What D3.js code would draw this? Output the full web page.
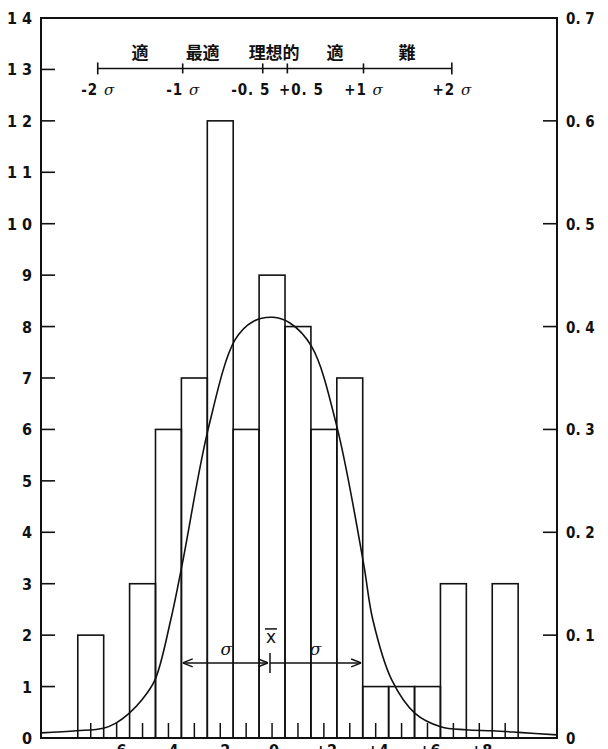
<!DOCTYPE html>
<html>
<head>
<meta charset="utf-8">
<script src="https://cdn.jsdelivr.net/npm/d3@7"></script>
<style>
  html, body { margin: 0; padding: 0; background: #fff; }
  svg { display: block; }
  .num { font-family: "DejaVu Sans Condensed", "Liberation Sans Narrow", sans-serif; font-weight: bold; fill: #111; }
  .cjk { font-family: "Noto Sans CJK JP", sans-serif; font-weight: bold; fill: #111; }
</style>
</head>
<body>
<div id="chart"></div>
<script>
// histogram bins (bin centre, in class units) and counts
const binCenters = [-7, -6, -5, -4, -3, -2, -1, 0, 1, 2, 3, 4, 5, 6, 7, 8, 9];
const counts     = [ 2,  0,  3,  6,  7, 12,  6, 9, 8, 6, 7, 1, 1, 1, 3, 0, 3];

// fitted curve, points (x in class units, y in counts)
const curveX = [-8.92, -7.54, -6.51, -6.03, -5.52, -5.03, -4.52, -3.91, -3.46, -2.46, -1.43, -0.73, 0.03, 0.69, 1.53, 2.5, 3.53, 3.89, 4.62, 5.52, 6.51, 7.48, 8.51, 9.51, 11.0];
const curveY = [ 0.10,  0.14,  0.19,  0.29,  0.48,  0.74,  1.13,  2.3,   3.4,   6.02,  7.74,  8.1,  8.18, 8.07, 7.61, 6.06, 3.4, 2.3, 1.13, 0.48, 0.22, 0.16, 0.14, 0.11, 0.06];

// axis ticks
const leftTicks  = [1, 2, 3, 4, 5, 6, 7, 8, 9, 10, 11, 12, 13];
const leftLabels = ['0', '1', '2', '3', '4', '5', '6', '7', '8', '9', '1 0', '1 1', '1 2', '1 3', '1 4'];
const rightTicks = [0.1, 0.2, 0.3, 0.4, 0.5, 0.6];
const rightLabels = ['0', '0. 1', '0. 2', '0. 3', '0. 4', '0. 5', '0. 6', '0. 7'];
const bottomLabelPos = [-6, -4, -2, 0, 2, 4, 6, 8];
const bottomLabels   = ['-6', '-4', '-2', '0', '+2', '+4', '+6', '+8'];

// sigma scale at the top
const sigmaPos    = [-6.73, -3.45, -0.36, 0.59, 3.53, 6.94];
const sigmaLabels = ['-2 ', '-1 ', '-0. 5', '+0. 5', '+1 ', '+2 '];
const sigmaHasSym = [true, true, false, false, true, true];
const zonePos     = [-5.10, -2.68, 0.08, 2.43, 5.21];
const zoneLabels  = ['適', '最適', '理想的', '適', '難'];

// mean / sigma marker
const markerPos = [-3.45, -0.08, 3.44];

const W = 608, H = 749;
const margin = { top: 18, right: 51, bottom: 11, left: 41 };

const svg = d3.select('#chart').append('svg')
  .attr('width', W)
  .attr('height', H);

const x = d3.scaleLinear().domain([-8.92, 11.0]).range([margin.left, W - margin.right]);
const y = d3.scaleLinear().domain([0, 14]).range([H - margin.bottom, margin.top]);
const y2 = d3.scaleLinear().domain([0, 0.7]).range([H - margin.bottom, margin.top]);

const ink = '#111';

// bars
svg.append('g')
  .selectAll('rect')
  .data(binCenters.map((c, i) => ({ c, v: counts[i] })).filter(d => d.v > 0))
  .join('rect')
  .attr('x', d => x(d.c - 0.5))
  .attr('width', d => x(d.c + 0.5) - x(d.c - 0.5))
  .attr('y', d => y(d.v))
  .attr('height', d => y(0) - y(d.v))
  .attr('fill', 'none')
  .attr('stroke', ink)
  .attr('stroke-width', 1.6);

// small ticks at bin centres
svg.append('g')
  .selectAll('line')
  .data(binCenters)
  .join('line')
  .attr('x1', d => x(d)).attr('x2', d => x(d))
  .attr('y1', y(0)).attr('y2', y(0) - 15)
  .attr('stroke', ink)
  .attr('stroke-width', 1.5);

// curve
const line = d3.line()
  .x((d, i) => x(curveX[i]))
  .y(d => y(d))
  .curve(d3.curveCatmullRom.alpha(0.5));

svg.append('path')
  .attr('d', line(curveY))
  .attr('fill', 'none')
  .attr('stroke', ink)
  .attr('stroke-width', 1.6);

// frame
svg.append('rect')
  .attr('x', x.range()[0])
  .attr('y', y(14))
  .attr('width', x.range()[1] - x.range()[0])
  .attr('height', y(0) - y(14))
  .attr('fill', 'none')
  .attr('stroke', ink)
  .attr('stroke-width', 2);

// left axis ticks + labels
svg.append('g')
  .selectAll('line')
  .data(leftTicks)
  .join('line')
  .attr('x1', x.range()[0]).attr('x2', x.range()[0] + 14)
  .attr('y1', d => y(d)).attr('y2', d => y(d))
  .attr('stroke', ink).attr('stroke-width', 1.6);

svg.append('g')
  .selectAll('text')
  .data(d3.range(0, 15))
  .join('text')
  .attr('class', 'num')
  .attr('x', 32)
  .attr('y', d => y(d) + 6)
  .attr('text-anchor', 'end')
  .attr('font-size', 16)
  .text(d => leftLabels[d]);

// right axis ticks + labels
svg.append('g')
  .selectAll('line')
  .data(rightTicks)
  .join('line')
  .attr('x1', x.range()[1] - 14).attr('x2', x.range()[1])
  .attr('y1', d => y2(d)).attr('y2', d => y2(d))
  .attr('stroke', ink).attr('stroke-width', 1.6);

svg.append('g')
  .selectAll('text')
  .data(d3.range(0, 8))
  .join('text')
  .attr('class', 'num')
  .attr('x', 566)
  .attr('y', d => y2(d / 10) + 6)
  .attr('font-size', 15)
  .text(d => rightLabels[d]);

// bottom labels (cut by the page edge, as in the source)
svg.append('g')
  .selectAll('text')
  .data(bottomLabelPos)
  .join('text')
  .attr('class', 'num')
  .attr('x', d => x(d) + 2)
  .attr('y', H + 7)
  .attr('text-anchor', 'middle')
  .attr('font-size', 16)
  .text((d, i) => bottomLabels[i]);

// sigma scale
const sy = y(13) - 1;
svg.append('line')
  .attr('x1', x(sigmaPos[0])).attr('x2', x(sigmaPos[sigmaPos.length - 1]))
  .attr('y1', sy).attr('y2', sy)
  .attr('stroke', ink).attr('stroke-width', 1.6);

svg.append('g')
  .selectAll('line')
  .data(sigmaPos)
  .join('line')
  .attr('x1', d => x(d)).attr('x2', d => x(d))
  .attr('y1', (d, i) => sy - (i === 0 || i === sigmaPos.length - 1 ? 6 : 5))
  .attr('y2', (d, i) => sy + (i === 0 || i === sigmaPos.length - 1 ? 6 : 5))
  .attr('stroke', ink).attr('stroke-width', 1.6);

const sl = svg.append('g')
  .selectAll('text')
  .data(sigmaPos)
  .join('text')
  .attr('class', 'num')
  .attr('x', (d, i) => x(d) + (i === 2 ? -12 : i === 3 ? 14 : 0))
  .attr('y', sy + 27)
  .attr('text-anchor', 'middle')
  .attr('font-size', 15);

sl.append('tspan').attr('letter-spacing', 1).text((d, i) => sigmaLabels[i]);
sl.filter((d, i) => sigmaHasSym[i])
  .append('tspan')
  .attr('font-family', 'DejaVu Serif, serif')
  .attr('font-style', 'italic')
  .attr('font-weight', 'normal')
  .text('σ');

svg.append('g')
  .selectAll('text')
  .data(zonePos)
  .join('text')
  .attr('class', 'cjk')
  .attr('x', d => x(d))
  .attr('y', sy - 9)
  .attr('text-anchor', 'middle')
  .attr('font-size', 17)
  .text((d, i) => zoneLabels[i]);

// mean and sigma arrows
const my = y(1.46);
svg.append('defs').append('marker')
  .attr('id', 'arr')
  .attr('viewBox', '0 -5 10 10')
  .attr('refX', 10).attr('refY', 0)
  .attr('markerWidth', 10).attr('markerHeight', 10)
  .attr('markerUnits', 'userSpaceOnUse')
  .attr('orient', 'auto-start-reverse')
  .append('path')
  .attr('d', 'M0,-4L10,0L0,4')
  .attr('fill', 'none')
  .attr('stroke', ink)
  .attr('stroke-width', 1.5);

svg.append('line')
  .attr('x1', x(markerPos[0])).attr('x2', x(markerPos[1]) - 2)
  .attr('y1', my).attr('y2', my)
  .attr('stroke', ink).attr('stroke-width', 1.5)
  .attr('marker-start', 'url(#arr)')
  .attr('marker-end', 'url(#arr)');

svg.append('line')
  .attr('x1', x(markerPos[1])).attr('x2', x(markerPos[2]))
  .attr('y1', my).attr('y2', my)
  .attr('stroke', ink).attr('stroke-width', 1.5)
  .attr('marker-end', 'url(#arr)');

svg.append('line')
  .attr('x1', x(markerPos[1])).attr('x2', x(markerPos[1]))
  .attr('y1', my - 10).attr('y2', my + 10)
  .attr('stroke', ink).attr('stroke-width', 1.5);

svg.append('g')
  .selectAll('text')
  .data([(markerPos[0] + markerPos[1]) / 2, (markerPos[1] + markerPos[2]) / 2])
  .join('text')
  .attr('x', d => x(d))
  .attr('y', my - 8)
  .attr('text-anchor', 'middle')
  .attr('font-family', 'DejaVu Serif, serif')
  .attr('font-style', 'italic')
  .attr('font-size', 17)
  .attr('fill', ink)
  .text('σ');

svg.append('text')
  .attr('x', x(markerPos[1]) + 1)
  .attr('y', my - 20)
  .attr('text-anchor', 'middle')
  .attr('font-family', 'DejaVu Sans, sans-serif')
  .attr('font-size', 17)
  .attr('fill', ink)
  .text('x');

svg.append('line')
  .attr('x1', x(markerPos[1]) - 5).attr('x2', x(markerPos[1]) + 7)
  .attr('y1', my - 34).attr('y2', my - 34)
  .attr('stroke', ink).attr('stroke-width', 1.5);
</script>
</body>
</html>
